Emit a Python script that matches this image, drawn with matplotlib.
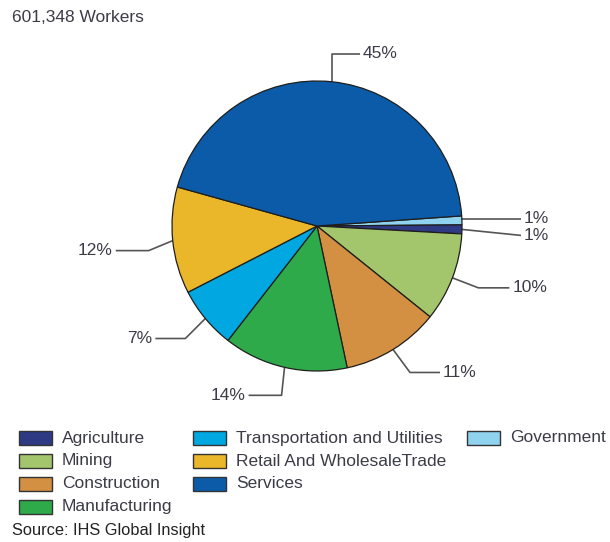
import matplotlib.pyplot as plt
from matplotlib.patches import Rectangle
import numpy as np

# pie order, clockwise from just above 3 o'clock
sectors = ["Government", "Agriculture", "Mining", "Construction",
           "Manufacturing", "Transportation and Utilities",
           "Retail And WholesaleTrade", "Services"]
shares = [1, 1, 10, 11, 14, 7, 12, 45]
colors = ["#8fd3ef", "#2e3a84", "#a3c56b", "#d38f42",
          "#2eaa4a", "#00a7e1", "#ebb72a", "#0b5ba8"]

# legend columns
legend_cols = [
    ["Agriculture", "Mining", "Construction", "Manufacturing"],
    ["Transportation and Utilities", "Retail And WholesaleTrade", "Services"],
    ["Government"],
]

title = "601,348 Workers"
source = "Source: IHS Global Insight"

# leader line shape per slice: elbow offset from wedge edge, then horizontal run
elbows = [(0, 1.5, 59), (59, -6, 0), (26, -10, 31), (17, -23, 30),
          (-3, -28, -33), (-20, -20, -30), (-24, -10, -33), (0, 28, 28)]

W, H = 610, 542
txt_color = "#3c3c48"
line_color = "#555555"
fs = 12.5
plt.rcParams['font.family'] = ['Liberation Sans', 'DejaVu Sans']

fig = plt.figure(figsize=(W / 100, H / 100), dpi=100)
ax = fig.add_axes([0, 0, 1, 1])

cx, cy, r = 317, 316, 145
wedges, _ = ax.pie(shares, colors=colors, startangle=4, counterclock=False,
                   center=(cx, cy), radius=r, frame=True,
                   wedgeprops=dict(edgecolor="#1e1e1e", linewidth=0.9))
ax.set_xlim(0, W)
ax.set_ylim(0, H)
ax.set_aspect('auto')
ax.axis('off')

for w, v, (dx, dy, run) in zip(wedges, shares, elbows):
    a = np.deg2rad((w.theta1 + w.theta2) / 2)
    x0, y0 = cx + r * np.cos(a), cy + r * np.sin(a)
    x1, y1 = x0 + dx, y0 + dy
    x2 = x1 + run
    ax.plot([x0, x1, x2], [y0, y1, y1], color=line_color, lw=1.2,
            solid_capstyle='butt', zorder=0)
    right = (x2 > cx)
    ax.text(x2 + (3 if right else -3), y1, f"{v}%", fontsize=fs,
            color=txt_color, ha='left' if right else 'right', va='center')

ax.text(12, H - 17, title, fontsize=fs, color=txt_color, va='center')

col_x = [19, 193, 467]
row_y = [H - 438, H - 461, H - 484, H - 507]
lut = dict(zip(sectors, colors))
for x, names in zip(col_x, legend_cols):
    for y, name in zip(row_y, names):
        ax.add_patch(Rectangle((x, y - 7), 33, 14, facecolor=lut[name],
                               edgecolor="#333333", lw=1.0))
        ax.text(x + 43, y, name, fontsize=fs, color=txt_color, va='center')

ax.text(12, H - 531, source, fontsize=11.8, color="#222222", va='center')

fig.savefig("out.png", dpi=100)
